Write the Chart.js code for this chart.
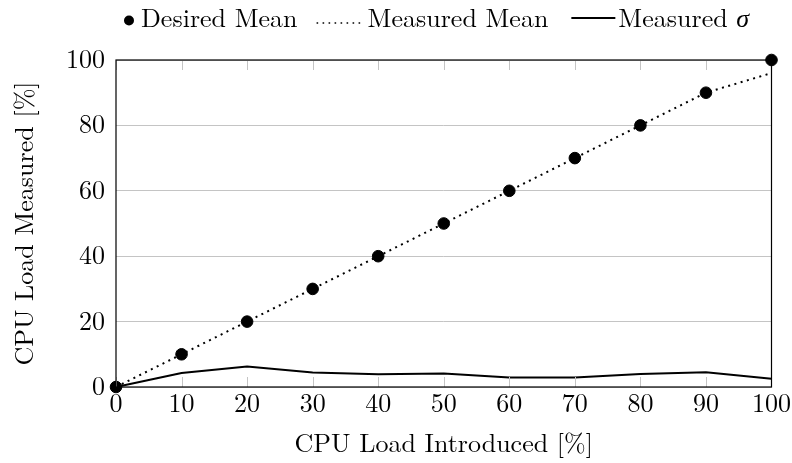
<!DOCTYPE html>
<html>
<head>
<meta charset="utf-8">
<script src="https://cdn.jsdelivr.net/npm/chart.js@4.4.1/dist/chart.umd.min.js"></script>
<style>
  html, body { margin: 0; padding: 0; background: #fff; }
  #wrap { width: 792px; height: 463px; }
</style>
</head>
<body>
<div id="wrap"><canvas id="cpu-chart" width="792" height="463"></canvas></div>
<script>
// CPU load: introduced vs measured
const loadIntroduced = [0, 10, 20, 30, 40, 50, 60, 70, 80, 90, 100];
const desiredMean    = [0, 10, 20, 30, 40, 50, 60, 70, 80, 90, 100];
const measuredMean   = [0, 10, 20, 30, 40, 50, 60, 70, 80, 90, 96];
const measuredSigma  = [0, 4.3, 6.3, 4.4, 3.9, 4.1, 2.9, 2.9, 4.0, 4.5, 2.5];
const xTicks = [0, 10, 20, 30, 40, 50, 60, 70, 80, 90, 100];
const yTicks = [0, 20, 40, 60, 80, 100];

const FONT = '"Latin Modern Roman", "Liberation Serif", serif';
const FS = 26;
const GRID = '#c4c4c4';

const toXY = (ys) => loadIntroduced.map((x, i) => ({ x, y: ys[i] }));

// box round the plot + inner tick marks on x (top and bottom)
const frame = {
    id: 'frame',
    afterDatasetsDraw(chart) {
        const { ctx, chartArea: a, scales: { x } } = chart;
        ctx.save();
        ctx.strokeStyle = GRID;
        ctx.lineWidth = 1;
        xTicks.forEach(v => {
            const px = Math.round(x.getPixelForValue(v)) + 0.5;
            ctx.beginPath();
            ctx.moveTo(px, a.bottom); ctx.lineTo(px, a.bottom - 10);
            ctx.moveTo(px, a.top); ctx.lineTo(px, a.top + 10);
            ctx.stroke();
        });
        ctx.strokeStyle = '#000';
        ctx.lineWidth = 1.2;
        ctx.strokeRect(a.left, a.top, a.right - a.left, a.bottom - a.top);
        ctx.restore();
    }
};

// pgfplots style legend row above the plot
const texLegend = {
    id: 'texLegend',
    afterDraw(chart) {
        const { ctx } = chart;
        const base = 27;
        ctx.save();
        ctx.fillStyle = '#000';
        ctx.strokeStyle = '#000';
        ctx.textBaseline = 'alphabetic';
        ctx.font = `${FS}px ${FONT}`;

        let x = 129;
        ctx.beginPath();
        ctx.arc(x, 20.5, 5, 0, Math.PI * 2);
        ctx.fill();
        x = 141;
        ctx.fillText('Desired Mean', x, base);
        x += ctx.measureText('Desired Mean').width + 19;

        ctx.lineWidth = 1.6;
        ctx.setLineDash([1.6, 4.4]);
        ctx.beginPath(); ctx.moveTo(x, 23); ctx.lineTo(x + 45, 23); ctx.stroke();
        x += 51;
        ctx.fillText('Measured Mean', x, base);
        x += ctx.measureText('Measured Mean').width + 23;

        ctx.setLineDash([]);
        ctx.lineWidth = 2;
        ctx.beginPath(); ctx.moveTo(x, 18); ctx.lineTo(x + 44, 18); ctx.stroke();
        x += 47;
        ctx.fillText('Measured ', x, base);
        x += ctx.measureText('Measured ').width;
        ctx.font = `italic ${FS}px ${FONT}`;
        ctx.fillText('\u03C3', x, base);
        ctx.restore();
    }
};

new Chart(document.getElementById('cpu-chart'), {
    type: 'scatter',
    data: {
        datasets: [
            {
                label: 'Measured Mean',
                data: toXY(measuredMean),
                showLine: true,
                borderColor: '#000',
                borderWidth: 2,
                borderDash: [2, 4.5],
                pointRadius: 0,
                tension: 0,
                clip: false,
                order: 2
            },
            {
                label: 'Measured \u03C3',
                data: toXY(measuredSigma),
                showLine: true,
                borderColor: '#000',
                borderWidth: 2,
                pointRadius: 0,
                tension: 0,
                clip: false,
                order: 3
            },
            {
                label: 'Desired Mean',
                data: toXY(desiredMean),
                showLine: false,
                backgroundColor: '#000',
                borderColor: '#000',
                pointRadius: 5.8,
                pointHoverRadius: 5.8,
                clip: false,
                order: 1
            }
        ]
    },
    options: {
        responsive: false,
        animation: false,
        layout: { padding: { top: 60, right: 20, left: 0, bottom: 3 } },
        plugins: {
            legend: { display: false },
            tooltip: { enabled: false }
        },
        scales: {
            x: {
                type: 'linear',
                min: 0, max: 100,
                afterBuildTicks: (s) => { s.ticks = xTicks.map(v => ({ value: v })); },
                afterFit: (s) => { s.height = 73; },
                grid: { display: false, drawTicks: false },
                border: { display: false },
                ticks: {
                    color: '#000',
                    padding: 1,
                    font: { family: FONT, size: FS }
                },
                title: {
                    display: true,
                    text: 'CPU Load Introduced [%]',
                    color: '#000',
                    padding: { top: 0, bottom: 0 },
                    font: { family: FONT, size: FS }
                }
            },
            y: {
                min: 0, max: 100,
                afterBuildTicks: (s) => { s.ticks = yTicks.map(v => ({ value: v })); },
                afterFit: (s) => { s.width = 116; },
                grid: { color: GRID, lineWidth: 1, drawTicks: false },
                border: { display: false },
                ticks: {
                    color: '#000',
                    padding: 11,
                    font: { family: FONT, size: FS }
                },
                title: {
                    display: true,
                    text: 'CPU Load Measured [%]',
                    color: '#000',
                    padding: { top: 9, bottom: 0 },
                    font: { family: FONT, size: FS }
                }
            }
        }
    },
    plugins: [frame, texLegend]
});
</script>
</body>
</html>
